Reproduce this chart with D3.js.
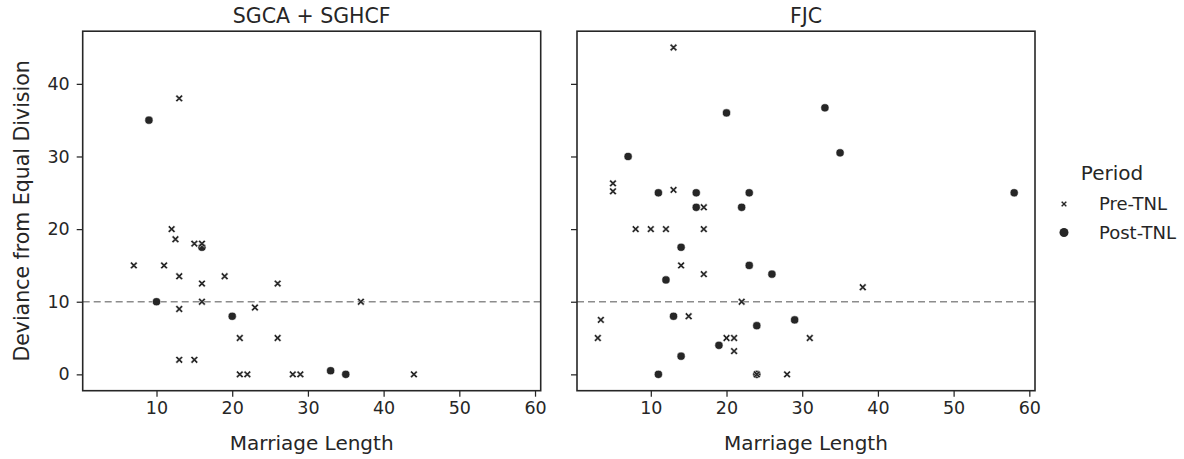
<!DOCTYPE html>
<html>
<head>
<meta charset="utf-8">
<script src="https://cdn.jsdelivr.net/npm/d3@7"></script>
<style>
  body { margin: 0; background: #fff; }
  text { font-family: "DejaVu Sans", sans-serif; fill: #262626; }
</style>
</head>
<body>
<div id="chart"></div>
<script>
// Panel titles
const panels = ["SGCA + SGHCF", "FJC"];

// SGCA + SGHCF panel
const sgcaPre = [[7,15],[11,15],[12,20],[12.5,18.6],[13,13.5],[13,9],[13,2],[13,38],[15,18],[15,2],
  [16,18],[16,12.5],[16,10],[19,13.5],[21,5],[21,0],[22,0],[23,9.2],[26,12.5],[26,5],[28,0],[29,0],[37,10],[44,0]];
const sgcaPost = [[9,35],[10,10],[16,17.5],[20,8],[33,0.5],[35,0]];

// FJC panel
const fjcPre = [[3,5],[3.4,7.5],[5,26.3],[5,25.2],[8,20],[10,20],[12,20],[13,45],[13,25.4],[14,15],[15,8],
  [17,23],[17,20],[17,13.8],[20,5],[21,5],[21,3.2],[22,10],[24,0],[28,0],[31,5],[38,12]];
const fjcPost = [[7,30],[11,25],[11,0],[12,13],[13,8],[14,17.5],[14,2.5],[16,25],[16,23],[19,4],[20,36],
  [22,23],[23,25],[23,15],[24,6.7],[24,0],[26,13.8],[29,7.5],[33,36.7],[35,30.5],[58,25]];

const equalLine = 10;
const xTicks = [10, 20, 30, 40, 50, 60];
const yTicks = [0, 10, 20, 30, 40];

const width = 1184, height = 459;
const plotTop = 31.2, plotBottom = 390.7, panelW = 458;
const lefts = [82.7, 577];
const ink = "#262626";

const svg = d3.select("#chart").append("svg")
  .attr("width", width).attr("height", height);

const y = d3.scaleLinear().domain([-2.25, 47.25]).range([plotBottom, plotTop]);

// filled "X" marker, like matplotlib's 'X'
const xPath = (s) => {
  const a = s * 0.4, b = s;
  return `M${-b},${-b + a}L${-b + a},${-b}L0,${-a}L${b - a},${-b}L${b},${-b + a}L${a},0L${b},${b - a}L${b - a},${b}L0,${a}L${-b + a},${b}L${-b},${b - a}L${-a},0Z`;
};

const sets = [[sgcaPre, sgcaPost], [fjcPre, fjcPost]];

panels.forEach((title, i) => {
  const x = d3.scaleLinear().domain([0.25, 60.75]).range([lefts[i], lefts[i] + panelW]);
  const g = svg.append("g");

  // x axis
  const ax = g.append("g")
    .attr("transform", `translate(0,${plotBottom})`)
    .call(d3.axisBottom(x).tickValues(xTicks).tickSize(6).tickPadding(5).tickSizeOuter(0));
  ax.select(".domain").remove();
  ax.selectAll("line").attr("stroke", ink).attr("stroke-width", 1.25);
  ax.selectAll("text").attr("font-size", 17.5).attr("fill", ink)
    .attr("font-family", "DejaVu Sans");

  // y axis
  const ay = g.append("g")
    .attr("transform", `translate(${lefts[i]},0)`)
    .call(d3.axisLeft(y).tickValues(yTicks).tickSize(6).tickPadding(7).tickSizeOuter(0));
  ay.select(".domain").remove();
  ay.selectAll("line").attr("stroke", ink).attr("stroke-width", 1.25);
  ay.selectAll("text").attr("font-size", 17.5).attr("fill", ink)
    .attr("font-family", "DejaVu Sans");
  if (i === 1) ay.selectAll("text").remove();

  // reference line
  g.append("line")
    .attr("x1", lefts[i]).attr("x2", lefts[i] + panelW)
    .attr("y1", y(equalLine)).attr("y2", y(equalLine))
    .attr("stroke", "#8c8c8c").attr("stroke-width", 1.5)
    .attr("stroke-dasharray", "7,4");

  const [pre, post] = sets[i];
  g.selectAll("circle.post").data(post).join("circle")
    .attr("class", "post")
    .attr("cx", d => x(d[0])).attr("cy", d => y(d[1])).attr("r", 4.1)
    .attr("fill", ink).attr("stroke", "#fff").attr("stroke-width", 0.6);
  g.selectAll("path.pre").data(pre).join("path")
    .attr("class", "pre")
    .attr("d", xPath(3.7))
    .attr("transform", d => `translate(${x(d[0])},${y(d[1])})`)
    .attr("fill", ink).attr("stroke", "#fff").attr("stroke-width", 0.5);

  // frame
  g.append("rect")
    .attr("x", lefts[i]).attr("y", plotTop).attr("width", panelW).attr("height", plotBottom - plotTop)
    .attr("fill", "none").attr("stroke", ink).attr("stroke-width", 1.6);

  g.append("text")
    .attr("x", lefts[i] + panelW / 2).attr("y", 23)
    .attr("text-anchor", "middle").attr("font-size", 20.5)
    .text(title);

  g.append("text")
    .attr("x", lefts[i] + panelW / 2).attr("y", 450)
    .attr("text-anchor", "middle").attr("font-size", 20)
    .text("Marriage Length");
});

svg.append("text")
  .attr("transform", `translate(29,${(plotTop + plotBottom) / 2}) rotate(-90)`)
  .attr("text-anchor", "middle").attr("font-size", 20.5)
  .text("Deviance from Equal Division");

// legend
const lg = svg.append("g");
lg.append("text").attr("x", 1112).attr("y", 180)
  .attr("text-anchor", "middle").attr("font-size", 20).text("Period");
const items = [["Pre-TNL", "x"], ["Post-TNL", "o"]];
items.forEach(([label, m], k) => {
  const cy = 204 + k * 28.5;
  if (m === "x") {
    lg.append("path").attr("d", xPath(3)).attr("transform", `translate(1064,${cy})`)
      .attr("fill", ink).attr("stroke", "#fff").attr("stroke-width", 0.4);
  } else {
    lg.append("circle").attr("cx", 1064).attr("cy", cy).attr("r", 4.5).attr("fill", ink);
  }
  lg.append("text").attr("x", 1099).attr("y", cy).attr("dy", "0.35em")
    .attr("font-size", 18).text(label);
});
</script>
</body>
</html>
